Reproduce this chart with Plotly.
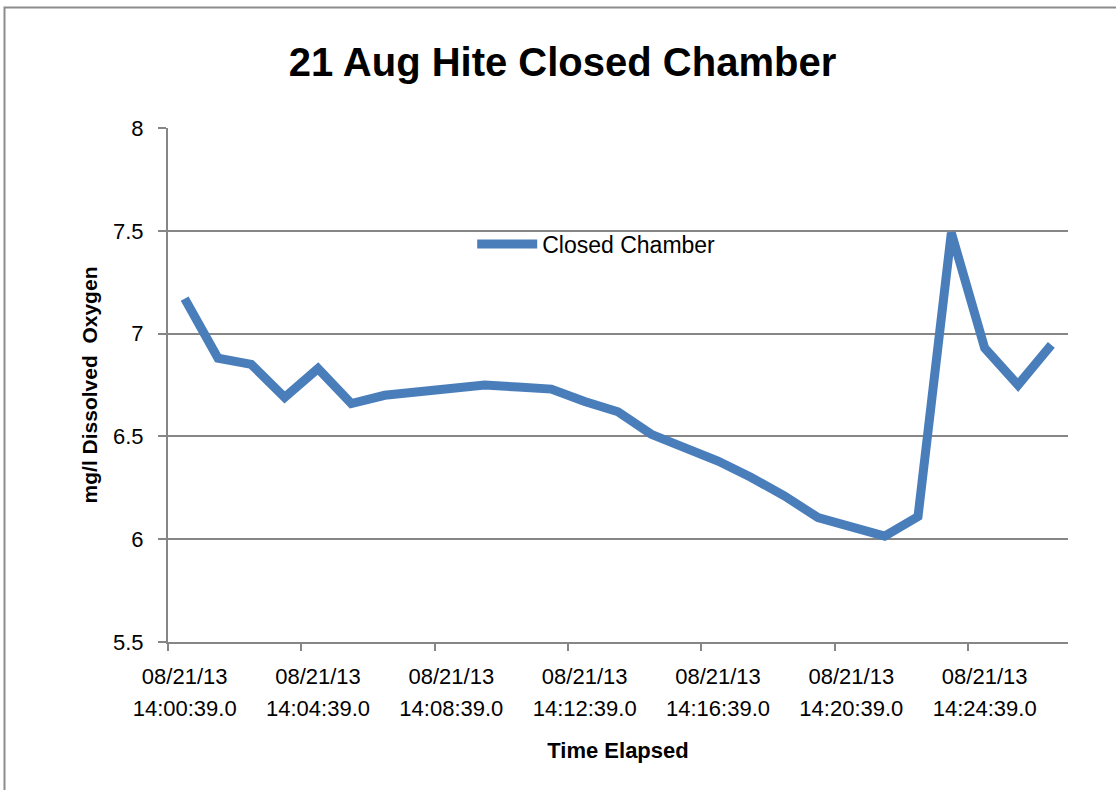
import plotly.graph_objects as go

# ---- data ----
dates = ["08/21/13"] * 27
times = ["14:%02d:39.0" % m for m in range(27)]
oxygen = [7.17, 6.88, 6.85, 6.69, 6.83, 6.66, 6.70, 6.72, 6.73, 6.75,
          6.74, 6.73, 6.67, 6.62, 6.51, 6.445, 6.38, 6.30, 6.21, 6.105,
          6.065, 6.015, 6.11, 7.49, 6.93, 6.75, 6.945]
series_name = "Closed Chamber"
title_text = "21 Aug Hite Closed Chamber"
y_title = "mg/l Dissolved  Oxygen"
x_title = "Time Elapsed"
y_ticks = [5.5, 6, 6.5, 7, 7.5, 8]

idx = list(range(len(oxygen)))
label_idx = idx[::4]
boundaries = [i - 0.5 for i in label_idx]

GRID = "#868686"
LINE = "#4a7ebb"
FONT = "Liberation Sans"

fig = go.Figure()
fig.add_trace(go.Scatter(x=idx, y=oxygen, mode="lines", name=series_name,
                         line=dict(color=LINE, width=9)))
# invisible trace to host second tick-label row
fig.add_trace(go.Scatter(x=idx, y=oxygen, mode="lines", xaxis="x2",
                         line=dict(width=0), showlegend=False, hoverinfo="skip",
                         opacity=0))

xr = [-0.5, len(oxygen) - 0.5]
fig.update_layout(
    width=1116, height=790,
    margin=dict(l=168, r=48, t=128, b=148),
    paper_bgcolor="white", plot_bgcolor="white",
    title=dict(text="<b>%s</b>" % title_text, x=0.504, xref="container",
               y=1 - 62 / 790, yref="container", yanchor="middle",
               font=dict(family=FONT, size=40, color="black")),
    showlegend=True,
    legend=dict(x=0.338, y=0.774, xanchor="left", yanchor="middle",
                bgcolor="rgba(0,0,0,0)", font=dict(family=FONT, size=23, color="black"),
                itemwidth=60),
    xaxis=dict(range=xr, tickmode="array", tickvals=label_idx,
               ticktext=[dates[i] for i in label_idx], ticks="",
               ticklabelstandoff=14,
               showgrid=False, zeroline=False,
               showline=True, linecolor=GRID, linewidth=2,
               tickfont=dict(family=FONT, size=22, color="black"),
               minor=dict(tickmode="array", tickvals=boundaries, ticks="outside",
                          ticklen=7, tickcolor=GRID, tickwidth=2, showgrid=False),
               title=dict(text="<b>%s</b>" % x_title, standoff=54,
                          font=dict(family=FONT, size=22, color="black"))),
    xaxis2=dict(range=xr, overlaying="x", side="bottom", anchor="y",
                tickmode="array", tickvals=label_idx,
                ticktext=[times[i] for i in label_idx], ticks="",
                ticklabelstandoff=51, showgrid=False, zeroline=False,
                showline=False,
                tickfont=dict(family=FONT, size=22, color="black")),
    yaxis=dict(range=[5.5, 8], tickmode="array", tickvals=y_ticks,
               ticktext=[("%g" % v) for v in y_ticks],
               showgrid=True, gridcolor=GRID, gridwidth=2, zeroline=False,
               showline=True, linecolor=GRID, linewidth=2,
               ticks="outside", ticklen=8, tickcolor=GRID, tickwidth=2,
               ticklabelstandoff=10,
               tickfont=dict(family=FONT, size=22, color="black"),
               title=dict(text="<b>%s</b>" % y_title, standoff=10,
                          font=dict(family=FONT, size=21, color="black"))),
)

# outer chart frame
fig.add_shape(type="rect", xref="paper", yref="paper",
              x0=(4.5 - 168) / 900, x1=(1125 - 168) / 900,
              y0=(642 - 800) / 514, y1=(642 - 7.5) / 514,
              line=dict(color="#8c8c8c", width=2), fillcolor="rgba(0,0,0,0)",
              layer="below")

fig.write_html("out.html", config={"displayModeBar": False},
               post_script="document.body.style.margin='0px';")
